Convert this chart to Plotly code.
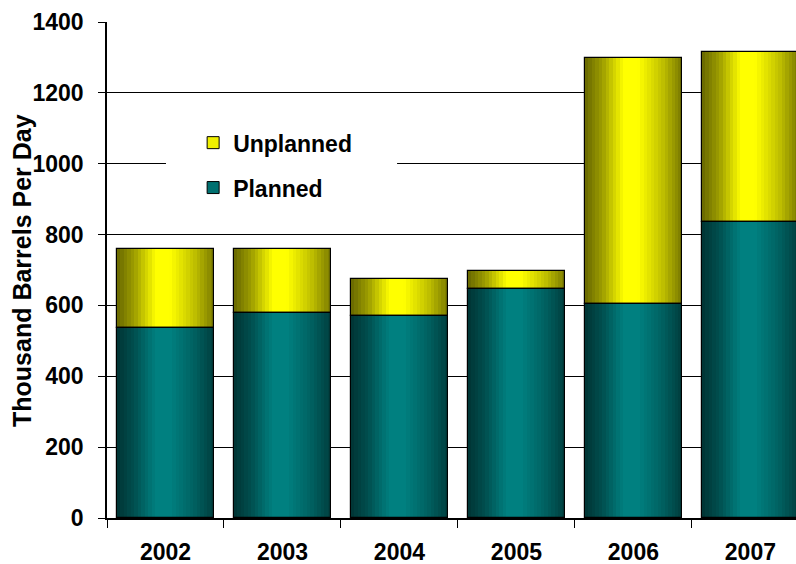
import plotly.graph_objects as go

years = ["2002", "2003", "2004", "2005", "2006", "2007"]
planned = [535, 580, 570, 647, 605, 835]
unplanned = [225, 180, 104, 50, 693, 480]
y_ticks = [0, 200, 400, 600, 800, 1000, 1200, 1400]
y_title = "Thousand Barrels Per Day"

FONT = "Liberation Sans, Arial, sans-serif"
BAR_W = 0.83
N = 28


def shade(t):
    # brightness profile across a bar (dark edges, bright centre)
    pts = [(0.0, 0.40), (0.18, 0.62), (0.40, 1.0), (0.55, 1.0), (0.80, 0.75), (1.0, 0.48)]
    for (t0, v0), (t1, v1) in zip(pts[:-1], pts[1:]):
        if t0 <= t <= t1:
            return v0 + (v1 - v0) * (t - t0) / (t1 - t0)
    return pts[-1][1]


def col(base, f):
    return "rgb(%d,%d,%d)" % tuple(min(255, round(c * f)) for c in base)


TEAL = (0, 128, 128)
YEL = (255, 255, 0)

fig = go.Figure()
sw = BAR_W / N
for i in range(N):
    t = (i + 0.5) / N
    off = -BAR_W / 2 + i * sw
    fig.add_trace(go.Bar(x=years, y=planned, base=[0] * len(years), width=sw * 1.08,
                         offset=off, marker=dict(color=col(TEAL, shade(t)), line=dict(width=0)),
                         showlegend=False, hoverinfo="skip"))
    fig.add_trace(go.Bar(x=years, y=unplanned, base=planned, width=sw * 1.08,
                         offset=off, marker=dict(color=col(YEL, shade(t)), line=dict(width=0)),
                         showlegend=False, hoverinfo="skip"))

# outlines
fig.add_trace(go.Bar(x=years, y=planned, base=[0] * len(years), width=BAR_W, offset=-BAR_W / 2,
                     marker=dict(color="rgba(0,0,0,0)", line=dict(color="black", width=1.2)),
                     showlegend=False, hoverinfo="skip"))
fig.add_trace(go.Bar(x=years, y=unplanned, base=planned, width=BAR_W, offset=-BAR_W / 2,
                     marker=dict(color="rgba(0,0,0,0)", line=dict(color="black", width=1.2)),
                     showlegend=False, hoverinfo="skip"))

# legend entries
fig.add_trace(go.Bar(x=[None], y=[None], name="Unplanned", legendgroup="u", legendrank=1,
                     marker=dict(color="#f0f000", line=dict(color="black", width=1))))
fig.add_trace(go.Bar(x=[None], y=[None], name="Planned", legendgroup="p", legendrank=2,
                     marker=dict(color="#007070", line=dict(color="black", width=1))))

fig.update_layout(
    width=796, height=564,
    margin=dict(l=107, r=0, t=22, b=46),
    paper_bgcolor="white", plot_bgcolor="white",
    barmode="overlay", bargap=0,
    font=dict(family=FONT, size=23, color="black", weight=700),
    legend=dict(x=0.125, y=0.80, xanchor="left", yanchor="top",
                bgcolor="rgba(0,0,0,0)", traceorder="grouped", tracegroupgap=12,
                font=dict(family=FONT, size=23, color="black", weight=700)),
    shapes=[dict(type="rect", xref="paper", yref="paper", x0=0.0856, x1=0.421,
                 y0=0.631, y1=0.792, fillcolor="white", line=dict(width=0), layer="above")],
    annotations=[dict(text=y_title, textangle=-90, xref="paper", yref="paper",
                      x=-0.1234, y=0.5, xanchor="center", yanchor="middle", showarrow=False,
                      font=dict(family=FONT, size=25, weight=700, color="black"))],
)
fig.update_xaxes(type="category", range=[-0.5, 5.39], showline=True, linecolor="black", linewidth=2,
                 ticks="outside", tickson="boundaries", ticklen=8, tickcolor="black", tickwidth=1,
                 showgrid=False, ticklabelstandoff=12, automargin=False,
                 tickfont=dict(family=FONT, size=23, weight=700))
fig.update_yaxes(range=[0, 1400], tickvals=y_ticks, showline=True, linecolor="black", linewidth=1.5,
                 ticks="outside", ticklen=7, tickcolor="black", tickwidth=1,
                 showgrid=True, gridcolor="black", gridwidth=1, zeroline=False,
                 ticklabelstandoff=10, automargin=False,
                 tickfont=dict(family=FONT, size=23, weight=700))

fig.write_html("out.html")
